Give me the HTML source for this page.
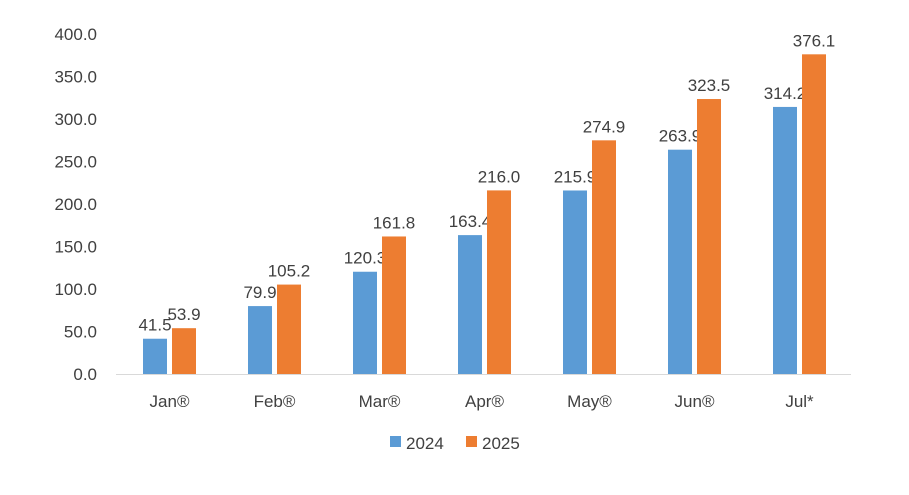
<!DOCTYPE html>
<html><head><meta charset="utf-8"><style>
body{margin:0;background:#fff;}
svg text{font-family:"Liberation Sans",Arial,sans-serif;fill:#404040;}
</style></head><body>
<svg width="909" height="490">
<g id="grid"></g>
<g id="bars"></g>
<g>
<rect x="390" y="436" width="11" height="11" fill="#5B9BD5"/>
<text x="406" y="449" font-size="17">2024</text>
<rect x="466" y="436" width="11" height="11" fill="#ED7D31"/>
<text x="482" y="449" font-size="17">2025</text>
</g>
</svg>
<script>
const categories=["Jan®","Feb®","Mar®","Apr®","May®","Jun®","Jul*"];
const series2024=[41.5,79.9,120.3,163.4,215.9,263.9,314.2];
const series2025=[53.9,105.2,161.8,216.0,274.9,323.5,376.1];
const yTicks=[0,50,100,150,200,250,300,350,400];
const NS="http://www.w3.org/2000/svg";
const x0=116,x1=851,y0=374,yTop=34,yMax=400;
const bw=(x1-x0)/categories.length;
const y=v=>y0-(v/yMax)*(y0-yTop);
function mk(t,a,p){const e=document.createElementNS(NS,t);for(const k in a)e.setAttribute(k,a[k]);p.appendChild(e);return e;}
const g=document.getElementById('grid'),b=document.getElementById('bars');
yTicks.forEach(v=>{const t=mk('text',{x:97,y:y(v)+6,'font-size':17,'text-anchor':'end'},g);t.textContent=v.toFixed(1);

});
const ax=mk('line',{x1:x0,x2:x1,y1:y0+0.5,y2:y0+0.5,stroke:'#d9d9d9','stroke-width':1},g);


categories.forEach((c,i)=>{
 const cx=x0+bw*(i+0.5)+1;
 const t=mk('text',{x:cx,y:407,'font-size':17,'text-anchor':'middle'},g);t.textContent=c;
 
 
 [[series2024,'#5B9BD5',cx-26.5,'2024'],[series2025,'#ED7D31',cx+2.5,'2025']].forEach(([s,col,bx,n])=>{
  const r=mk('rect',{x:bx,y:y(s[i]),width:24,height:y0-y(s[i]),fill:col},b);
  
  
  const l=mk('text',{x:bx+12,y:y(s[i])-8,'font-size':17,'text-anchor':'middle'},b);l.textContent=s[i].toFixed(1);
  
  
 });
});
</script>
</body></html>
